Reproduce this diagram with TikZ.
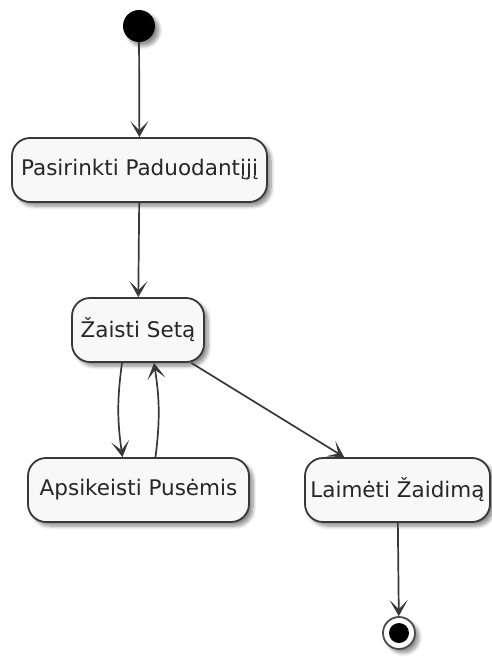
\documentclass[tikz,border=0pt]{standalone}
\usepackage{fontspec}
\setmainfont{DejaVu Sans}
\usetikzlibrary{arrows.meta,shadows,shadows.blur}
\definecolor{edge}{HTML}{383838}
\definecolor{boxfill}{HTML}{F8F8F8}
\tikzset{
  shade/.style={blur shadow={shadow xshift=4pt, shadow yshift=-4pt, shadow blur steps=8,
    shadow blur radius=3.5pt, shadow opacity=45}},
  state/.style={draw=edge, line width=1.8pt, fill=boxfill, rounded corners=18pt,
    minimum height=64pt, inner sep=0pt, font=\fontsize{21.5}{24}\selectfont, text=black!85, shade},
  flow/.style={draw=edge, line width=1.7pt, -{Stealth[length=16pt,width=18pt,inset=9pt]}},
  startdot/.style={circle, fill=black, minimum size=32pt, inner sep=0pt, shade},
}
\begin{document}
\begin{tikzpicture}[x=1pt,y=-1pt]
\useasboundingbox (0,0) rectangle (491,657);
\node[startdot] (start) at (139,26) {};
\node[state, minimum width=255pt] (pick) at (139.5,170) {Pasirinkti Paduodantįjį};
\node[state, minimum width=132pt] (play) at (138,330) {Žaisti Setą};
\node[state, minimum width=221pt] (swap) at (138.5,490) {Apsikeisti Pusėmis};
\node[state, minimum width=185pt] (win) at (397.5,490) {Laimėti Žaidimą};
\node[circle, draw=black!70, line width=1.8pt, fill=white, minimum size=32pt, inner sep=0pt, shade] (end) at (399,633) {};
\node[circle, fill=black, minimum size=20pt, inner sep=0pt] (endin) at (end.center) {};
\draw[flow] (start) -- (pick);
\draw[flow] (pick) -- (play);
\draw[flow] ([xshift=-16pt]play.south) to[bend right=8] ([xshift=-16pt]swap.north);
\draw[flow] ([xshift=17pt]swap.north) to[bend right=8] ([xshift=16pt]play.south);
\draw[flow] (play) -- (win);
\draw[flow] (win) -- (end);
\end{tikzpicture}
\end{document}
